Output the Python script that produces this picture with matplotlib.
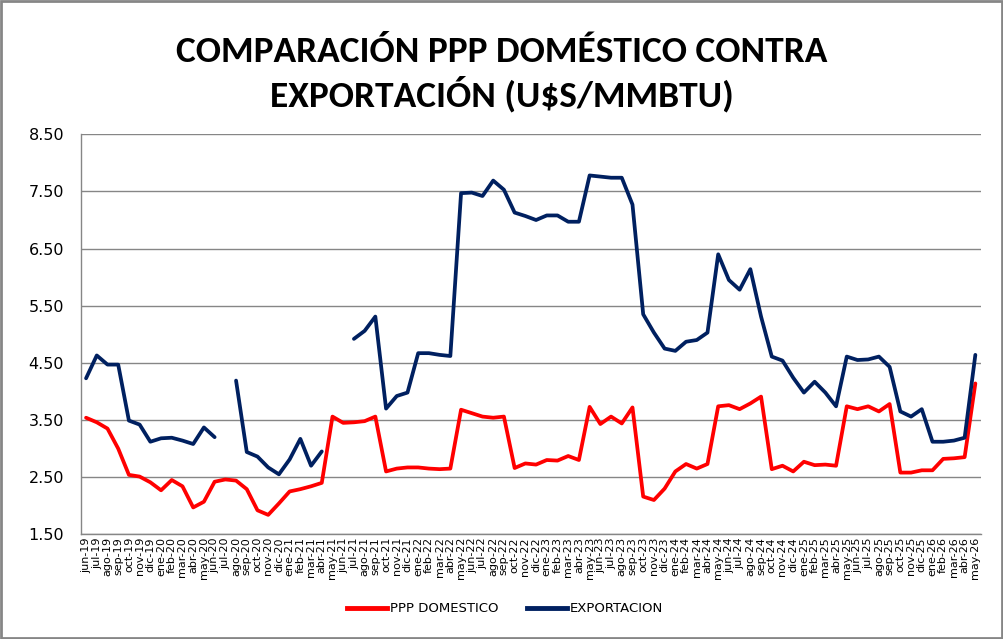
import numpy as np
import matplotlib
matplotlib.use("Agg")
import matplotlib.pyplot as plt
from matplotlib import font_manager
from matplotlib.patches import Rectangle
from matplotlib.lines import Line2D

months = ["jun-19","jul-19","ago-19","sep-19","oct-19","nov-19","dic-19",
          "ene-20","feb-20","mar-20","abr-20","may-20","jun-20","jul-20","ago-20","sep-20","oct-20","nov-20","dic-20",
          "ene-21","feb-21","mar-21","abr-21","may-21","jun-21","jul-21","ago-21","sep-21","oct-21","nov-21","dic-21",
          "ene-22","feb-22","mar-22","abr-22","may-22","jun-22","jul-22","ago-22","sep-22","oct-22","nov-22","dic-22",
          "ene-23","feb-23","mar-23","abr-23","may-23","jun-23","jul-23","ago-23","sep-23","oct-23","nov-23","dic-23",
          "ene-24","feb-24","mar-24","abr-24","may-24","jun-24","jul-24","ago-24","sep-24","oct-24","nov-24","dic-24",
          "ene-25","feb-25","mar-25","abr-25","may-25","jun-25","jul-25","ago-25","sep-25","oct-25","nov-25","dic-25",
          "ene-26","feb-26","mar-26","abr-26","may-26"]

ppp_domestico = [3.54, 3.46, 3.35, 3.00, 2.54, 2.51, 2.41, 2.27, 2.45, 2.34,
                 1.97, 2.07, 2.42, 2.46, 2.44, 2.29, 1.92, 1.84, 2.04, 2.25,
                 2.29, 2.34, 2.40, 3.56, 3.45, 3.46, 3.48, 3.56, 2.60, 2.65,
                 2.67, 2.67, 2.65, 2.64, 2.65, 3.68, 3.62, 3.56, 3.54, 3.56,
                 2.66, 2.74, 2.72, 2.80, 2.79, 2.87, 2.80, 3.73, 3.43, 3.56,
                 3.44, 3.72, 2.16, 2.10, 2.30, 2.60, 2.73, 2.65, 2.73, 3.74,
                 3.76, 3.69, 3.79, 3.91, 2.64, 2.70, 2.60, 2.77, 2.71, 2.72,
                 2.70, 3.74, 3.69, 3.74, 3.65, 3.78, 2.58, 2.58, 2.62, 2.62,
                 2.82, 2.83, 2.85, 4.14]

exportacion = [4.23, 4.63, 4.47, 4.47, 3.49, 3.42, 3.12, 3.18, 3.19, 3.14,
               3.08, 3.37, 3.20, np.nan, 4.19, 2.94, 2.86, 2.67, 2.55, 2.81,
               3.17, 2.70, 2.95, np.nan, np.nan, 4.92, 5.06, 5.31, 3.70, 3.92,
               3.98, 4.67, 4.67, 4.64, 4.62, 7.47, 7.48, 7.42, 7.69, 7.53,
               7.13, 7.07, 7.00, 7.08, 7.08, 6.97, 6.97, 7.78, 7.76, 7.74,
               7.74, 7.27, 5.35, 5.03, 4.75, 4.71, 4.87, 4.90, 5.03, 6.40,
               5.95, 5.78, 6.14, 5.31, 4.61, 4.54, 4.24, 3.98, 4.17, 3.98,
               3.74, 4.61, 4.55, 4.56, 4.61, 4.43, 3.65, 3.56, 3.69, 3.12,
               3.12, 3.14, 3.19, 4.64]

y_ticks = [1.50, 2.50, 3.50, 4.50, 5.50, 6.50, 7.50, 8.50]
title_lines = ["COMPARACIÓN PPP DOMÉSTICO CONTRA", "EXPORTACIÓN (U$S/MMBTU)"]
legend_labels = ["PPP DOMESTICO", "EXPORTACION"]

RED = "#FF0000"
BLUE = "#002060"
GRID = "#868686"

available = {f.name for f in font_manager.fontManager.ttflist}
title_family = "DejaVu Sans"
for cand in ["Carlito", "Liberation Sans Narrow", "Roboto Condensed", "Open Sans Condensed",
             "Lato", "Roboto", "Open Sans", "Liberation Sans"]:
    if cand in available:
        title_family = cand
        break

fig = plt.figure(figsize=(10.04, 6.39), dpi=100)
ax = fig.add_axes([80.7/1004, 1 - 534.3/639, 900/1004, 400/639])

x = np.arange(len(months))
ax.plot(x, ppp_domestico, color=RED, lw=2.7, solid_joinstyle="round", solid_capstyle="round")
ax.plot(x, exportacion, color=BLUE, lw=2.7, solid_joinstyle="round", solid_capstyle="round")

ax.set_xlim(-0.5, len(months) - 0.5)
ax.set_ylim(1.5, 8.5)
ax.set_yticks(y_ticks)
ax.set_yticklabels([f"{v:.2f}" for v in y_ticks], fontsize=11.5, family="DejaVu Sans")
ax.set_xticks(x)
ax.set_xticklabels(months, rotation=90, fontsize=8, family="DejaVu Sans", va="top")
ax.tick_params(axis="both", length=0)
ax.tick_params(axis="y", pad=12)
ax.tick_params(axis="x", pad=2)

ax.grid(axis="y", color=GRID, lw=1.0)
ax.set_axisbelow(True)
for s in ["top", "right"]:
    ax.spines[s].set_visible(False)
for s in ["left", "bottom"]:
    ax.spines[s].set_color(GRID)
    ax.spines[s].set_linewidth(1.0)

t1 = fig.text(0.5, 1 - 62/639, title_lines[0], ha="center", va="baseline",
              fontsize=28, fontweight="bold", family=[title_family, "DejaVu Sans"])
t2 = fig.text(0.5, 1 - 106/639, title_lines[1], ha="center", va="baseline",
              fontsize=28, fontweight="bold", family=[title_family, "DejaVu Sans"])
# fit title width to the reference (~650 px for the first line)
renderer = fig.canvas.get_renderer()
w = t1.get_window_extent(renderer).width
fs = 28 * 650.0 / w
fs = min(fs, 32)
t1.set_fontsize(fs)
t2.set_fontsize(fs)

handles = [Line2D([], [], color=RED, lw=3.5), Line2D([], [], color=BLUE, lw=3.5)]
fig.legend(handles, legend_labels, loc="center", bbox_to_anchor=(505/1004, 1 - 609/639),
           ncol=2, frameon=False, handlelength=3.0, handletextpad=0.2, columnspacing=2.2,
           prop={"family": "DejaVu Sans", "size": 9.5})

fig.patches.append(Rectangle((0.001, 0.002), 0.997, 0.996, transform=fig.transFigure, fill=False,
                             edgecolor=GRID, lw=2.0))

fig.savefig("out.png", dpi=100, facecolor="white")
